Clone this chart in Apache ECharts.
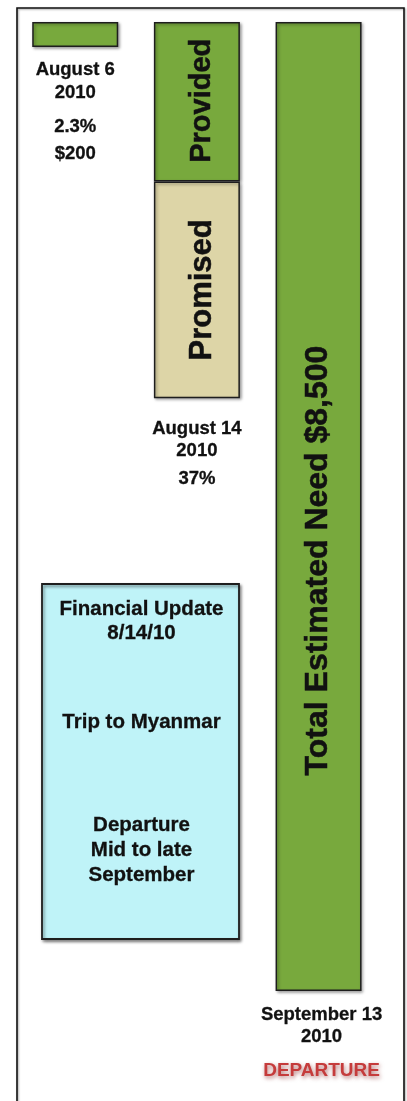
<!DOCTYPE html>
<html>
<head>
<meta charset="utf-8">
<script src="https://cdn.jsdelivr.net/npm/echarts@6/dist/echarts.min.js"></script>
<style>html,body{margin:0;padding:0;background:#fff;}#c{width:407px;height:1101px;}</style>
</head>
<body>
<div id="c"></div>
<script>
const categories = ['August 6', 'August 14', 'September 13'];
const providedValues = [220, 1400, null];
const promisedValues = [null, 1900, null];
const needValues = [null, null, 8500];
const needMax = 8500;
const belowLabels = [
  ['August 6', '2010', '2.3%', '$200'],
  ['August 14', '2010', '37%'],
  ['September 13', '2010', 'DEPARTURE']
];
const noteLines = ['Financial Update', '8/14/10', 'Trip to Myanmar', 'Departure', 'Mid to late', 'September'];

const FONT = '"Liberation Sans", Arial, Helvetica, sans-serif';
const GREEN = '#78a93d';
const TAN = '#ddd5a7';
const BORDER = '#1e1e1e';
const barShadow = {shadowColor: 'rgba(0,0,0,0.35)', shadowBlur: 3, shadowOffsetX: 1.5, shadowOffsetY: 1.5};

const chart = echarts.init(document.getElementById('c'), null, {renderer: 'canvas'});

function insideLabel(text, size, extra) {
  return Object.assign({
    show: true, position: 'inside', rotate: 90, formatter: text,
    fontFamily: FONT, fontWeight: 'bold', fontSize: size, color: '#111',
    textBorderColor: '#111', textBorderWidth: 0.5
  }, extra || {});
}

const option = {
  animation: false,
  backgroundColor: '#fff',
  grid: {left: 14.4, width: 365, top: 22, height: 969},
  xAxis: {type: 'category', data: categories, show: false},
  yAxis: {type: 'value', inverse: true, min: 0, max: needMax, show: false},
  series: [
    {
      name: 'Provided', type: 'bar', stack: 'all', barWidth: 86,
      itemStyle: Object.assign({color: GREEN, borderColor: BORDER, borderWidth: 1.5}, barShadow),
      data: providedValues.map((v, i) => i === 1 ? {value: v, label: insideLabel('Provided', 29, {offset: [1, 5]})} : v)
    },
    {
      name: 'Promised', type: 'bar', stack: 'all', barWidth: 86,
      itemStyle: Object.assign({color: TAN, borderColor: BORDER, borderWidth: 1.5}, barShadow),
      data: promisedValues.map((v, i) => i === 1 ? {value: v, label: insideLabel('Promised', 31, {offset: [0, 6]})} : v)
    },
    {
      name: 'Total Estimated Need', type: 'bar', stack: 'all', barWidth: 86,
      itemStyle: Object.assign({color: GREEN, borderColor: BORDER, borderWidth: 1.5}, barShadow),
      data: needValues.map((v, i) => i === 2 ? {value: v, label: insideLabel('Total Estimated Need $8,500', 32, {offset: [-54, 0]})} : v)
    }
  ]
};
chart.setOption(option);

// annotations below each bar, placed from the axis scales
const lineOffsets = [
  [23, 45.5, 79.5, 107],
  [31, 53, 81],
  [24, 46, 80]
];
const totals = categories.map((c, i) => (providedValues[i] || 0) + (promisedValues[i] || 0) + (needValues[i] || 0));
const graphics = [];
graphics.push({
  type: 'rect', z: -1, silent: true,
  shape: {x: 17, y: 8, width: 387, height: 1110},
  style: {fill: 'none', stroke: '#111', lineWidth: 1.6, shadowColor: 'rgba(0,0,0,0.35)', shadowBlur: 2, shadowOffsetX: 1, shadowOffsetY: 1}
});
categories.forEach((c, i) => {
  const p = chart.convertToPixel({xAxisIndex: 0, yAxisIndex: 0}, [c, totals[i]]);
  belowLabels[i].forEach((t, j) => {
    const isDep = t === 'DEPARTURE';
    graphics.push({
      type: 'text', x: p[0] + (i === 2 ? 3 : 0), y: p[1] + lineOffsets[i][j],
      style: {
        text: t, align: 'center', verticalAlign: 'middle',
        font: 'bold ' + (isDep ? 19 : 18.5) + 'px ' + FONT,
        fill: isDep ? '#c53b3b' : '#111',
        stroke: isDep ? null : '#111', lineWidth: isDep ? 0 : 0.3,
        textShadowColor: isDep ? 'rgba(120,0,0,0.55)' : 'transparent',
        textShadowBlur: isDep ? 4 : 0, textShadowOffsetX: isDep ? 1 : 0, textShadowOffsetY: isDep ? 2 : 0
      }
    });
  });
});
// note box
const boxX = 42, boxY = 584, boxW = 197, boxH = 355;
graphics.push({
  type: 'rect', shape: {x: boxX, y: boxY, width: boxW, height: boxH},
  style: {fill: '#bff3f8', stroke: '#1e1e1e', lineWidth: 1.8, shadowColor: 'rgba(0,0,0,0.45)', shadowBlur: 3, shadowOffsetX: 1.5, shadowOffsetY: 2}
});
const noteY = [609, 633, 722, 825, 850, 875];
noteLines.forEach((t, j) => {
  graphics.push({
    type: 'text', x: boxX + boxW / 2 + 1, y: noteY[j],
    style: {text: t, align: 'center', verticalAlign: 'middle', font: 'bold 20.5px ' + FONT, fill: '#111', stroke: '#111', lineWidth: 0.3}
  });
});
chart.setOption({graphic: graphics});
</script>
</body>
</html>
